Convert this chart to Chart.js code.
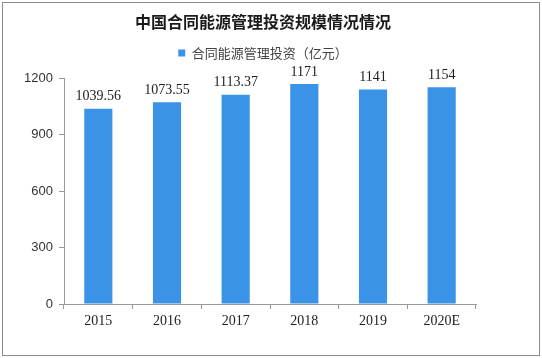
<!DOCTYPE html>
<html>
<head>
<meta charset="utf-8">
<script src="https://cdn.jsdelivr.net/npm/chart.js@4/dist/chart.umd.min.js"></script>
<style>
  html, body { margin: 0; padding: 0; background: #ffffff; }
  #wrap { position: relative; width: 542px; height: 358px; }
</style>
</head>
<body>
<div id="wrap"><canvas id="c"></canvas></div>
<script>
const categories = ['2015', '2016', '2017', '2018', '2019', '2020E'];
const investment = [1039.56, 1073.55, 1113.37, 1171, 1141, 1154];
const seriesName = '合同能源管理投资（亿元）';
const chartTitle = '中国合同能源管理投资规模情况情况';
const yTicks = [0, 300, 600, 900, 1200];

const valueLabels = {
  id: 'valueLabels',
  afterDatasetsDraw(chart) {
    const ctx = chart.ctx;
    ctx.save();
    ctx.font = '14px "Liberation Serif", "DejaVu Serif", serif';
    ctx.fillStyle = '#222222';
    ctx.textAlign = 'center';
    ctx.textBaseline = 'bottom';
    chart.data.datasets.forEach((ds, i) => {
      const meta = chart.getDatasetMeta(i);
      meta.data.forEach((bar, j) => {
        ctx.fillText(String(ds.data[j]), bar.x, bar.y - 5);
      });
    });
    ctx.restore();
  }
};

const frame = {
  id: 'frame',
  afterDraw(chart) {
    const ctx = chart.ctx;
    ctx.save();
    ctx.strokeStyle = '#8c8c8c';
    ctx.lineWidth = 1;
    ctx.strokeRect(2.5, 2.5, chart.width - 5, chart.height - 5);
    ctx.restore();
  }
};

new Chart(document.getElementById('c'), {
  type: 'bar',
  data: {
    labels: categories,
    datasets: [{
      label: seriesName,
      data: investment,
      backgroundColor: '#3b93e8',
      borderWidth: 0,
      barPercentage: 0.41,
      categoryPercentage: 1.0
    }]
  },
  options: {
    responsive: true,
    maintainAspectRatio: false,
    animation: false,
    layout: { padding: { left: 0, right: 16, top: 0, bottom: 0 } },
    plugins: {
      title: {
        display: true,
        text: chartTitle,
        color: '#1a1a1a',
        font: { family: '"Noto Sans CJK SC", sans-serif', size: 16, weight: 'bold', lineHeight: '8px' },
        padding: { top: 18, bottom: 0 }
      },
      legend: {
        display: true,
        labels: {
          boxWidth: 7,
          boxHeight: 7,
          padding: 20.5,
          color: '#444444',
          font: { family: '"Noto Sans CJK SC", sans-serif', size: 13 }
        }
      },
      tooltip: { enabled: false }
    },
    scales: {
      x: {
        grid: { drawOnChartArea: false, drawTicks: true, tickLength: 5, color: '#999999', offset: true },
        border: { color: '#999999' },
        ticks: {
          color: '#222222',
          padding: 4,
          font: { family: '"Liberation Serif", "DejaVu Serif", serif', size: 14 }
        },
        afterFit(scale) { scale.height = 54; }
      },
      xTopSpace: {
        type: 'category',
        position: 'top',
        grid: { display: false },
        border: { display: false },
        ticks: { display: false },
        afterFit(scale) { scale.height = 9; }
      },
      y: {
        min: 0,
        max: 1200,
        afterBuildTicks(scale) { scale.ticks = yTicks.map(v => ({ value: v })); },
        grid: { drawOnChartArea: false, drawTicks: true, tickLength: 5, color: '#999999' },
        border: { color: '#999999' },
        ticks: {
          color: '#333333',
          padding: 6,
          callback: v => String(v),
          font: { family: '"Liberation Sans", Arial, sans-serif', size: 13 }
        },
        afterFit(scale) { scale.width = 64; }
      },
      yRightSpace: {
        type: 'linear',
        position: 'right',
        min: 0,
        max: 1200,
        grid: { display: false },
        border: { display: false },
        ticks: { display: false },
        afterFit(scale) { scale.width = 50; }
      }
    }
  },
  plugins: [valueLabels, frame]
});
</script>
</body>
</html>
